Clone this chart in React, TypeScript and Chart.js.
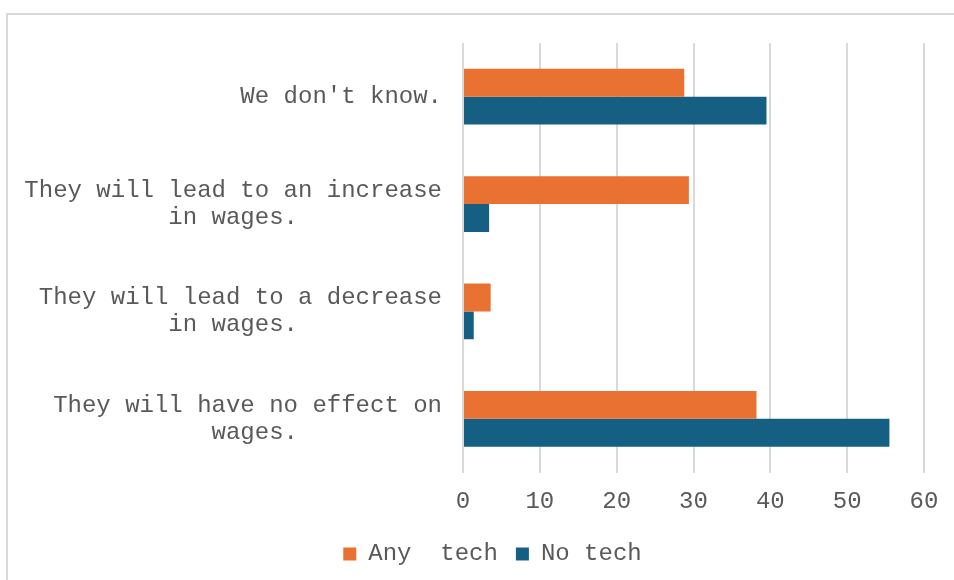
import React, { useEffect, useRef } from "react";
import { Chart, registerables } from "chart.js";

Chart.register(...registerables);

const categories: string[][] = [
  ["We don't know."],
  ["They will lead to an increase", "in wages.          "],
  ["They will lead to a decrease", "in wages.          "],
  ["They will have no effect on", "wages.          "],
];
const seriesNames = ["Any  tech", "No tech"];
const anyTech = [28.8, 29.4, 3.6, 38.2];
const noTech = [39.5, 3.4, 1.4, 55.5];
const xTicks = [0, 10, 20, 30, 40, 50, 60];

const FONT = "'Courier New', 'Liberation Mono', monospace";
const TEXT = "#595959";

const unclipLabels = {
  id: "unclipLabels",
  afterLayout(chart: any) {
    const y = chart.scales.y;
    if (y) y.left = 0;
  },
};

export default function App() {
  const ref = useRef<HTMLCanvasElement | null>(null);
  useEffect(() => {
    if (!ref.current) return;
    const chart = new Chart(ref.current, {
      type: "bar",
      data: {
        labels: categories,
        datasets: [
          { label: seriesNames[0], data: anyTech, backgroundColor: "#E97132", borderWidth: 0 },
          { label: seriesNames[1], data: noTech, backgroundColor: "#156082", borderWidth: 0 },
        ],
      },
      plugins: [unclipLabels],
      options: {
        indexAxis: "y",
        animation: false,
        responsive: false,
        maintainAspectRatio: false,
        layout: { padding: { top: 43, right: 30, left: 61, bottom: 4 } },
        datasets: { bar: { categoryPercentage: 0.52, barPercentage: 1 } },
        scales: {
          x: {
            min: xTicks[0],
            max: xTicks[xTicks.length - 1],
            afterBuildTicks: (s: any) => {
              s.ticks = xTicks.map((v) => ({ value: v }));
            },
            afterFit: (s: any) => {
              s.height = 51.5;
              s.paddingLeft = 0;
              s.paddingRight = 0;
            },
            grid: { color: "#d9d9d9", lineWidth: 2, drawTicks: false },
            border: { display: false },
            ticks: {
              color: TEXT,
              padding: 16,
              font: { family: FONT, size: 24, lineHeight: 1.12 },
            },
          },
          y: {
            afterFit: (s: any) => {
              s.width = 402;
              s.paddingTop = 0;
              s.paddingBottom = 0;
            },
            grid: { display: false, drawTicks: false },
            border: { display: false },
            ticks: {
              color: TEXT,
              padding: 21,
              font: { family: FONT, size: 24, lineHeight: 1.12 },
            },
          },
        },
        plugins: {
          legend: {
            position: "bottom",
            labels: {
              color: TEXT,
              boxWidth: 13,
              boxHeight: 13,
              padding: 18,
              font: { family: FONT, size: 24, lineHeight: 1.12 },
            },
          },
          tooltip: { enabled: false },
        },
      },
    } as any);
    return () => chart.destroy();
  }, []);

  return (
    <div style={{ position: "fixed", left: 0, top: 0, width: 954, height: 580, background: "#fff", overflow: "hidden" }}>
      <div
        style={{
          position: "absolute",
          left: 6,
          top: 13,
          width: 1000,
          height: 1000,
          border: "2px solid #d9d9d9",
          boxSizing: "border-box",
        }}
      />
      <canvas ref={ref} width={954} height={580} style={{ position: "absolute", left: 0, top: 0, width: 954, height: 580 }} />
    </div>
  );
}
